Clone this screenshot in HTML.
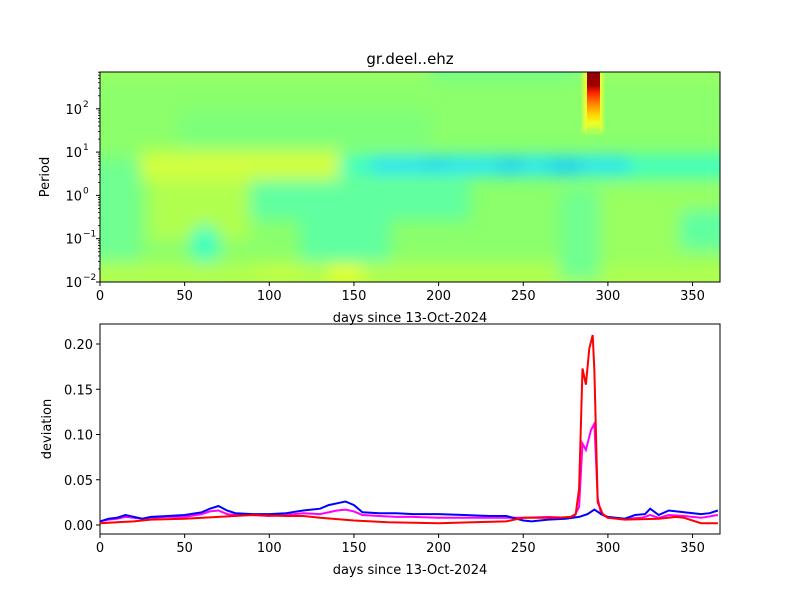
<!DOCTYPE html>
<html><head><meta charset="utf-8"><style>
body{margin:0;background:#fff;}
text{font-family:"DejaVu Sans","Liberation Sans",sans-serif;font-size:13px;fill:#000}
</style></head><body>
<svg id="s" width="800" height="600" xmlns="http://www.w3.org/2000/svg">
<defs>
<filter id="b" x="-20%" y="-20%" width="140%" height="140%"><feGaussianBlur stdDeviation="8"/></filter>
<filter id="b2"><feGaussianBlur stdDeviation="2"/></filter>
<clipPath id="c1"><rect x="100" y="72" width="620" height="210"/></clipPath>
<linearGradient id="sp" x1="0" y1="0" x2="0" y2="1">
<stop offset="0" stop-color="#800000"/><stop offset="0.35" stop-color="#a00000"/><stop offset="0.45" stop-color="#ff2000"/><stop offset="0.6" stop-color="#ff8000"/><stop offset="0.75" stop-color="#ffd000"/><stop offset="0.88" stop-color="#f0ff20"/><stop offset="1" stop-color="#a0ff60"/></linearGradient>
</defs>
<text x="410" y="64" text-anchor="middle" style="font-size:15px">gr.deel..ehz</text>
<g clip-path="url(#c1)">
<rect x="100" y="72" width="620" height="210" fill="#8cff6c"/>
<g filter="url(#b)">
<rect x="60" y="60" width="700" height="18" fill="#9cff60"/>
<rect x="430" y="60" width="150" height="18" fill="#70ff90"/>
<rect x="180" y="110" width="250" height="40" fill="#78ff80" opacity=".7"/>
<rect x="80" y="158" width="60" height="120" fill="#70ff90"/>
<rect x="140" y="150" width="200" height="30" fill="#d0ff40"/>
<rect x="150" y="180" width="100" height="60" fill="#b0ff50"/>
<rect x="340" y="155" width="400" height="22" fill="#40ffc0"/>
<rect x="370" y="158" width="260" height="14" fill="#20e0ff"/>
<ellipse cx="510" cy="166" rx="15" ry="7" fill="#10c8ff"/>
<ellipse cx="565" cy="167" rx="20" ry="7" fill="#10c8ff"/>
<ellipse cx="435" cy="164" rx="15" ry="6" fill="#10d0ff"/>
<rect x="250" y="180" width="220" height="40" fill="#60ffa0"/>
<rect x="300" y="210" width="90" height="60" fill="#60ffa0"/>
<ellipse cx="205" cy="245" rx="15" ry="20" fill="#40ffc0"/>
<rect x="80" y="262" width="660" height="30" fill="#b0ff50"/>
<ellipse cx="345" cy="274" rx="20" ry="8" fill="#f0ff10"/>
<ellipse cx="280" cy="272" rx="30" ry="7" fill="#c8ff40"/>
<rect x="600" y="190" width="120" height="80" fill="#a0ff58" opacity=".7"/>
<rect x="680" y="210" width="60" height="40" fill="#60ffa0"/>
<rect x="560" y="190" width="40" height="90" fill="#70ff90"/>
</g>
<rect x="583" y="72" width="20" height="60" fill="#f0ff30" filter="url(#b2)"/>
<rect x="587" y="60" width="13" height="72" fill="url(#sp)"/>
</g>
<rect x="100" y="72" width="620" height="210" fill="none" stroke="#000"/>
<rect x="100" y="324" width="620" height="210" fill="none" stroke="#000"/>
<text x="410" y="322" text-anchor="middle">days since 13-Oct-2024</text>
<text x="410" y="574" text-anchor="middle">days since 13-Oct-2024</text>
<text x="49" y="177" text-anchor="middle" transform="rotate(-90 49 177)">Period</text>
<text x="51" y="429" text-anchor="middle" transform="rotate(-90 51 429)">deviation</text>
</svg>
<script>
var s=document.getElementById('s'),ns='http://www.w3.org/2000/svg';
function el(t,a,txt){var e=document.createElementNS(ns,t);for(var k in a)e.setAttribute(k,a[k]);if(txt)e.textContent=txt;s.appendChild(e);return e;}
function X(d){return 100+d*1.693;}
[0,50,100,150,200,250,300,350].forEach(function(d){var x=X(d);
[282,534].forEach(function(y){el('line',{x1:x,x2:x,y1:y,y2:y+4,stroke:'#000'});el('text',{x:x,y:y+18,'text-anchor':'middle'},''+d);});});
var ex=['−2','−1','0','1','2'];
for(var i=0;i<5;i++){var y=282-i*43.3;el('line',{x1:96,x2:100,y1:y,y2:y,stroke:'#000'});
el('text',{x:82,y:y+5,'text-anchor':'end'},'10');el('text',{x:83,y:y-2,'text-anchor':'start',style:'font-size:9px'},ex[i]);}
for(var dd=-2;dd<3;dd++)for(var m=2;m<10;m++){var y=282-(dd+2+Math.log10(m))*43.3;if(y<72)continue;el('line',{x1:98,x2:100,y1:y,y2:y,stroke:'#000','stroke-width':.8});}
function Y(v){return 525-v*905;}
['0.00','0.05','0.10','0.15','0.20'].forEach(function(l,i){var y=Y(i*0.05);el('line',{x1:96,x2:100,y1:y,y2:y,stroke:'#000'});el('text',{x:93,y:y+5,'text-anchor':'end'},l);});
function P(a,c){var p=[];for(var i=0;i<a.length;i+=2)p.push(X(a[i]).toFixed(1)+','+Y(a[i+1]).toFixed(1));el('polyline',{points:p.join(' '),fill:'none',stroke:c,'stroke-width':2});}
P([0,.004,5,.006,10,.007,15,.009,20,.008,25,.007,30,.008,40,.009,50,.009,60,.012,65,.015,70,.016,75,.012,80,.011,90,.011,100,.010,110,.011,120,.013,130,.012,140,.016,145,.017,150,.015,155,.011,165,.010,175,.009,185,.009,200,.008,215,.008,230,.008,240,.008,250,.008,265,.009,275,.008,280,.009,283,.02,285,.09,287,.083,290,.105,292,.112,294,.03,296,.012,300,.008,310,.007,320,.008,325,.011,330,.008,336,.011,345,.010,355,.008,365,.011],'#ff00ff');
P([0,.004,5,.007,10,.008,15,.011,20,.009,25,.007,30,.009,40,.010,50,.011,60,.014,65,.018,70,.021,75,.016,80,.013,90,.012,100,.012,110,.013,120,.016,130,.018,135,.022,140,.024,145,.026,150,.022,155,.014,165,.013,175,.013,185,.012,200,.012,215,.011,230,.010,240,.010,250,.005,255,.004,265,.006,275,.007,283,.009,288,.012,292,.017,296,.012,300,.009,310,.007,316,.011,322,.012,325,.018,330,.011,336,.016,345,.014,355,.012,360,.013,365,.016],'#0000ff');
P([0,.002,10,.003,20,.004,30,.006,50,.007,70,.009,90,.011,110,.010,120,.010,130,.008,150,.005,170,.003,200,.002,220,.003,240,.004,250,.008,270,.008,278,.009,281,.012,283,.04,285,.173,287,.155,289,.195,291,.21,292,.17,294,.025,297,.012,300,.008,310,.006,330,.007,340,.009,345,.008,355,.002,365,.002],'#ff0000');
</script>
</body></html>
